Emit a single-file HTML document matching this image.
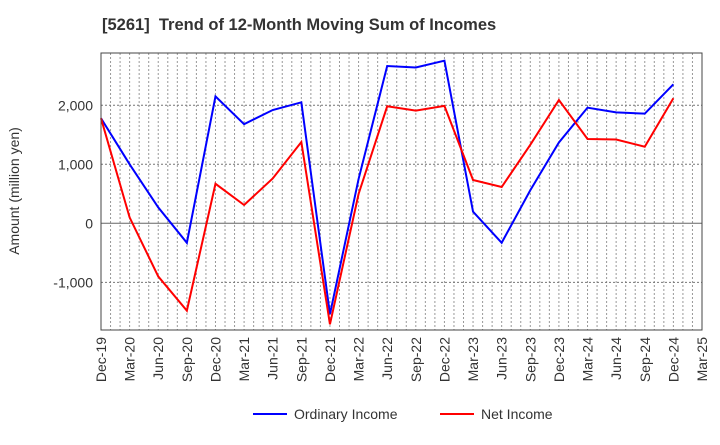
<!DOCTYPE html>
<html><head><meta charset="utf-8"><style>
body{margin:0;background:#fff;font-family:"Liberation Sans",sans-serif;}
</style></head><body>
<svg id="chart" width="720" height="440" xmlns="http://www.w3.org/2000/svg" font-family="Liberation Sans, sans-serif">
<text x="102" y="30" font-size="16.5" font-weight="bold" fill="#333" xml:space="preserve">[5261]  Trend of 12-Month Moving Sum of Incomes</text>
<text transform="translate(19,191) rotate(-90)" text-anchor="middle" font-size="14" fill="#333">Amount (million yen)</text>
<g id="grid"></g><g id="series"></g><g id="axes"></g>
<g>
<line x1="253" y1="414" x2="287" y2="414" stroke="#0000ff" stroke-width="2"/>
<text x="294" y="419" font-size="14" fill="#333">Ordinary Income</text>
<line x1="440" y1="414" x2="474" y2="414" stroke="#ff0000" stroke-width="2"/>
<text x="481" y="419" font-size="14" fill="#333">Net Income</text>
</g>
</svg>
<script>
const categories=["Dec-19","Mar-20","Jun-20","Sep-20","Dec-20","Mar-21","Jun-21","Sep-21","Dec-21","Mar-22","Jun-22","Sep-22","Dec-22","Mar-23","Jun-23","Sep-23","Dec-23","Mar-24","Jun-24","Sep-24","Dec-24","Mar-25"];
const ordinaryIncome=[1780,1000,270,-330,2150,1680,1920,2050,-1540,750,2666,2640,2756,197,-330,560,1370,1960,1880,1858,2356];
const netIncome=[1780,100,-900,-1480,670,310,760,1378,-1712,497,1983,1910,1990,734,615,1330,2090,1429,1420,1298,2119];
const yTicks=[-1000,0,1000,2000];
const yTickLabels=["-1,000","0","1,000","2,000"];
const L=101,R=702,T=53,B=330,yMin=-1808,yMax=2886;
const NS="http://www.w3.org/2000/svg";
function x(i){return L+(R-L)*i/(categories.length-1);}
function y(v){return B-(v-yMin)/(yMax-yMin)*(B-T);}
function mk(tag,attrs,parent){const e=document.createElementNS(NS,tag);for(const k in attrs)e.setAttribute(k,attrs[k]);parent.appendChild(e);return e;}
const grid=document.getElementById('grid'),axes=document.getElementById('axes'),series=document.getElementById('series');
const n=(categories.length-1)*3;
for(let m=1;m<n;m++){const xx=L+(R-L)*m/n;const l=mk('line',{x1:xx,x2:xx,y1:T,y2:B,stroke:'#999','stroke-width':1,'stroke-dasharray':'2,2'},grid);

}
yTicks.forEach((v,i)=>{const yy=y(v);
const l=mk('line',{x1:L,x2:R,y1:yy,y2:yy,stroke:v===0?'#666':'#777','stroke-width':1,'stroke-dasharray':v===0?'':'2,2'},grid);


const t=mk('text',{x:L-8,y:yy+5,'text-anchor':'end','font-size':14,fill:'#333'},axes);t.textContent=yTickLabels[i];

});
categories.forEach((c,i)=>{const t=mk('text',{transform:`translate(${x(i)+5},${B+7}) rotate(-90)`,'text-anchor':'end','font-size':14,fill:'#333'},axes);t.textContent=c;

});
const fr=mk('rect',{x:L,y:T,width:R-L,height:B-T,fill:'none',stroke:'#444','stroke-width':1},axes);


function line(data,color,name){const p=mk('polyline',{points:data.map((v,i)=>x(i)+','+y(v)).join(' '),fill:'none',stroke:color,'stroke-width':2,'stroke-linejoin':'miter'},series);

}
line(ordinaryIncome,'#0000ff','ordinary-income-line');
line(netIncome,'#ff0000','net-income-line');
</script>
</body></html>
